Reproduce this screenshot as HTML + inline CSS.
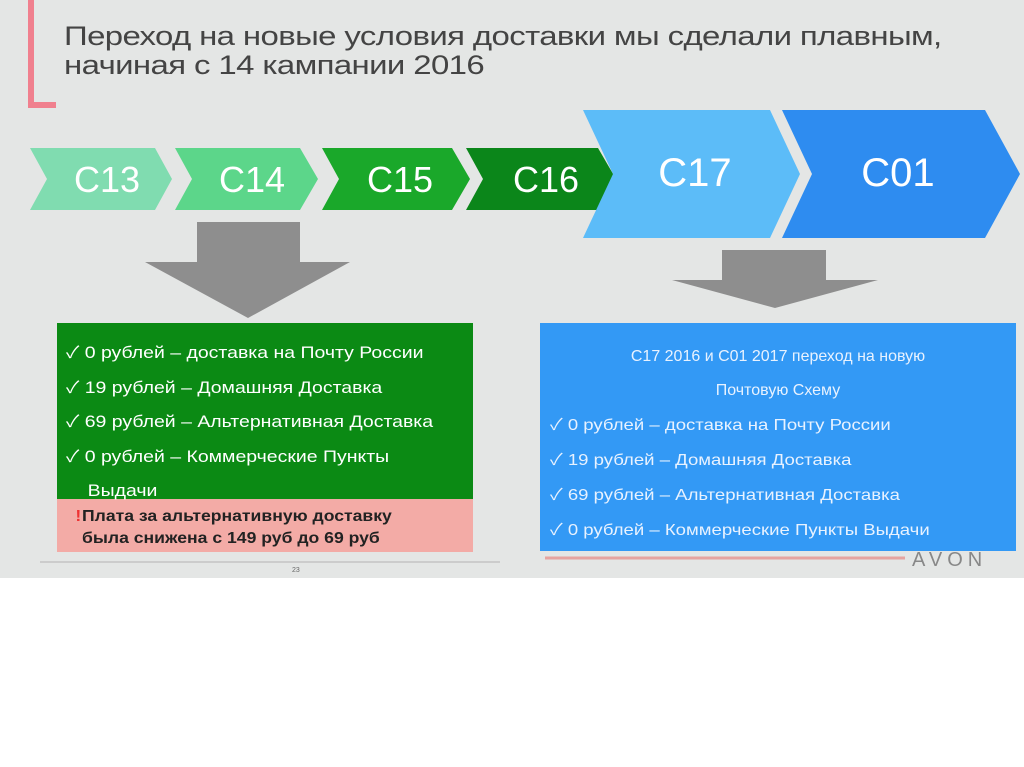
<!DOCTYPE html>
<html><head><meta charset="utf-8"><style>
body{margin:0;width:1024px;height:767px;background:#fff;overflow:hidden;font-family:"Liberation Sans","Noto Sans CJK SC",sans-serif;}
.slide{position:absolute;left:0;top:0;width:1024px;height:578px;background:#e4e6e5;}
.t{position:absolute;white-space:nowrap;transform-origin:0 0;}
</style></head><body>
<div class="slide">
<div style="position:absolute;left:28px;top:0;width:6px;height:108px;background:#f0808e"></div>
<div style="position:absolute;left:28px;top:102px;width:28px;height:6px;background:#f0808e"></div>
<div class="t" style="left:64px;top:22px;font-size:27px;color:#444;letter-spacing:-0.5px;line-height:29px;transform:scaleX(1.22)">Переход на новые условия доставки мы сделали плавным,<br>начиная с 14 кампании 2016</div>
<svg width="1024" height="578" style="position:absolute;left:0;top:0">
<polygon points="30,148 155,148 172,179 155,210 30,210 47,179" fill="#80dcb0"/>
<polygon points="175,148 300,148 318,179 300,210 175,210 192,179" fill="#5cd68a"/>
<polygon points="322,148 452,148 470,179 452,210 322,210 339,179" fill="#1aa82a"/>
<polygon points="466,148 598,148 616,179 598,210 466,210 483,179" fill="#0b861a"/>
<polygon points="583,110 770,110 800,174 770,238 583,238 613,174" fill="#5cbcf8"/>
<polygon points="782,110 985,110 1020,174 985,238 782,238 812,174" fill="#2e8cf0"/>
<g fill="#fff" font-family="Liberation Sans,sans-serif" font-size="36">
<text x="107" y="192" text-anchor="middle">C13</text>
<text x="252" y="192" text-anchor="middle">C14</text>
<text x="400" y="192" text-anchor="middle">C15</text>
<text x="546" y="192" text-anchor="middle">C16</text>
<text x="695" y="186" text-anchor="middle" font-size="40">C17</text>
<text x="898" y="186" text-anchor="middle" font-size="40">C01</text>
</g>
<polygon points="197,222 300,222 300,262 350,262 248,318 145,262 197,262" fill="#8e8e8e"/>
<polygon points="722,250 826,250 826,280 878,280 775,308 672,280 722,280" fill="#8e8e8e"/>
<rect x="57" y="323" width="416" height="176" fill="#0b8a14"/>
<rect x="57" y="499" width="416" height="53" fill="#f3aba6"/>
<rect x="540" y="323" width="476" height="228" fill="#3399f5"/>
<line x1="40" y1="562" x2="500" y2="562" stroke="#ccc" stroke-width="2"/>
<line x1="545" y1="558" x2="905" y2="558" stroke="#e6a4a0" stroke-width="3"/>
<text x="912" y="566" font-size="20" fill="#888" letter-spacing="5">AVON</text>
<text x="292" y="572" font-size="7" fill="#666">23</text>
</svg>
<div class="t" style="left:66px;top:336px;font-size:16.5px;color:#fff;line-height:34.5px;transform:scaleX(1.18)">✓ 0 рублей – доставка на Почту России<br>✓ 19 рублей – Домашняя Доставка<br>✓ 69 рублей – Альтернативная Доставка<br>✓ 0 рублей – Коммерческие Пункты<br>&nbsp;&nbsp;&nbsp;&nbsp;Выдачи</div>
<div class="t" style="left:82px;top:506px;font-size:16px;font-weight:bold;color:#222;line-height:22px;transform:scaleX(1.1)"><span style="color:#e33;position:absolute;left:-6px">!</span>Плата за альтернативную доставку<br>была снижена с 149 руб до 69 руб</div>
<div class="t" style="left:540px;width:476px;text-align:center;top:340px;font-size:16px;color:#e8f2ff;line-height:34px">C17 2016 и C01 2017 переход на новую<br>Почтовую Схему</div>
<div class="t" style="left:550px;top:408px;font-size:16px;color:#e8f2ff;line-height:35px;transform:scaleX(1.16)">✓ 0 рублей – доставка на Почту России<br>✓ 19 рублей – Домашняя Доставка<br>✓ 69 рублей – Альтернативная Доставка<br>✓ 0 рублей – Коммерческие Пункты Выдачи</div>
</div>
</body></html>
